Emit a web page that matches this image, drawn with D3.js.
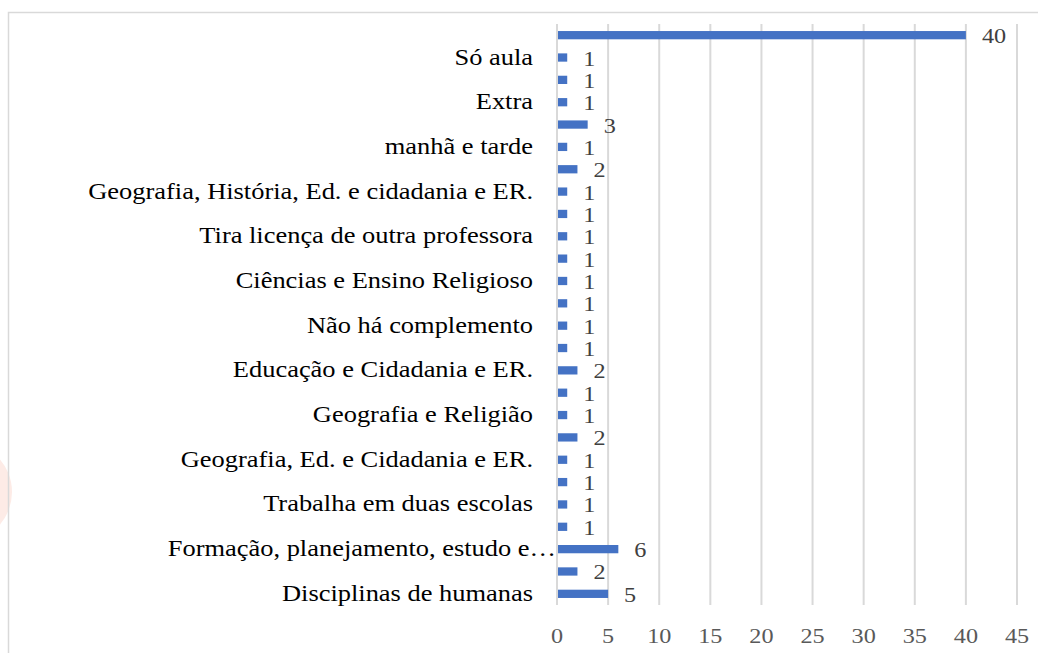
<!DOCTYPE html>
<html>
<head>
<meta charset="utf-8">
<style>
body {
  margin: 0;
  background: white;
}
svg {
  display: block;
}
</style>
</head>
<body>
<script src="https://cdnjs.cloudflare.com/ajax/libs/d3/7.8.5/d3.min.js"></script>
<script>
// categories top to bottom; Excel only shows every other label
var categories = [
  "", "Só aula", "", "Extra", "", "manhã e tarde", "",
  "Geografia, História, Ed. e cidadania e ER.", "",
  "Tira licença de outra professora", "",
  "Ciências e Ensino Religioso", "",
  "Não há complemento", "",
  "Educação e Cidadania e ER.", "",
  "Geografia e Religião", "",
  "Geografia, Ed. e Cidadania e ER.", "",
  "Trabalha em duas escolas", "",
  "Formação, planejamento, estudo e…", "",
  "Disciplinas de humanas"
]
var values = [40, 1, 1, 1, 3, 1, 2, 1, 1, 1, 1, 1, 1, 1, 1, 2, 1, 1, 2, 1, 1, 1, 1, 6, 2, 5]
var ticks = [0, 5, 10, 15, 20, 25, 30, 35, 40, 45]

var width = 1038,
    height = 653,
    font = "'Liberation Serif', 'Times New Roman'"

var svg = d3.select("body")
  .append("svg")
  .attr("width", width)
  .attr("height", height)
  .attr("font-family", font)

// faint watermark on the left edge
svg.append("circle")
  .attr("cx", -38)
  .attr("cy", 492)
  .attr("r", 50)
  .attr("fill", "#fdebe6")

// chart frame (only top and left visible)
svg.append("path")
  .attr("d", "M8.5," + height + "V12.5H" + width)
  .attr("fill", "none")
  .attr("stroke", "#d9d9d9")
  .attr("stroke-width", 1.5)

var rows = d3.range(values.length)

var x = d3.scaleLinear().domain([0, 45]).range([557, 1017])
var y = d3.scaleBand().domain(rows).range([24, 605]).paddingInner(0.63).paddingOuter(0.315)

// gridlines
svg.selectAll(".grid")
  .data(ticks)
  .enter().append("line")
  .attr("x1", function(d) { return x(d) })
  .attr("x2", function(d) { return x(d) })
  .attr("y1", 24)
  .attr("y2", 605)
  .attr("stroke", "#d9d9d9")
  .attr("stroke-width", 2)

// tick labels
svg.selectAll(".tick")
  .data(ticks)
  .enter().append("text")
  .attr("transform", function(d) { return "translate(" + x(d) + ",643) scale(1.1,1)" })
  .attr("text-anchor", "middle")
  .attr("font-size", 22)
  .attr("fill", "#595959")
  .text(function(d) { return d })

// bars
svg.selectAll(".bar")
  .data(rows)
  .enter().append("rect")
  .attr("x", x(0) + 1)
  .attr("y", function(i) { return y(i) })
  .attr("width", function(i) { return x(values[i]) - x(0) - 1 })
  .attr("height", y.bandwidth())
  .attr("fill", "#4472c4")

// value labels
svg.selectAll(".val")
  .data(rows)
  .enter().append("text")
  .attr("transform", function(i) {
    return "translate(" + (x(values[i]) + 16) + "," + (y(i) + y.bandwidth() / 2 + 8) + ") scale(1.1,1)"
  })
  .attr("font-size", 22)
  .attr("fill", "#404040")
  .text(function(i) { return values[i] })

// category labels (truncated label runs a bit further right, like Excel)
svg.selectAll(".cat")
  .data(rows)
  .enter().append("text")
  .attr("transform", function(i) {
    var right = categories[i].slice(-1) === "…" ? 556 : 533
    return "translate(" + right + "," + (y(i) + y.bandwidth() / 2 + 7) + ") scale(1.15,1)"
  })
  .attr("text-anchor", "end")
  .attr("font-size", 23)
  .attr("fill", "#000000")
  .text(function(i) { return categories[i] })
</script>
</body>
</html>
